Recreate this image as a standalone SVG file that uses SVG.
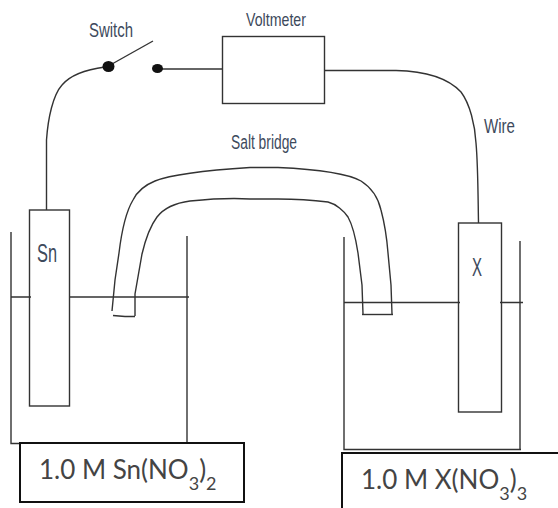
<svg xmlns="http://www.w3.org/2000/svg" width="558" height="508" viewBox="0 0 558 508">
<style>
.l{fill:none;stroke:#333;stroke-width:1.4}
.b{fill:none;stroke:#111;stroke-width:2}
.t{font-family:"Liberation Sans",Arial,sans-serif;fill:#3d4a5c}
.m{font-family:Lato,"Liberation Sans",sans-serif;font-size:26px;fill:#444}
.s{font-size:18px}
</style>
<rect width="558" height="508" fill="#fff"/>
<g id="connectors">
<path class="l" d="M46.500 210V140C48 118 53 95 62 85C72 73 90 69 105 67"/>
<path class="l" d="M112 64L153 41"/>
<path class="l" d="M160 69H222"/>
<path class="l" d="M324 70.500H396C420 71 445 75 461 92C470 104 475 125 476 143C478 165 478 195 478.500 223"/>
</g>
<g id="switch-contact-left"><ellipse cx="108.500" cy="66.500" rx="6" ry="5.500" fill="#111"/></g>
<g id="switch-contact-right"><ellipse cx="157.500" cy="68.500" rx="5.500" ry="4.500" fill="#111"/></g>
<g id="switch-label"><text class="t" x="89" y="37" font-size="20" textLength="44" lengthAdjust="spacingAndGlyphs">Switch</text></g>
<g id="voltmeter"><rect class="l" x="222.500" y="36.500" width="102" height="67"/>
<text class="t" x="246" y="26" font-size="19" textLength="60" lengthAdjust="spacingAndGlyphs">Voltmeter</text></g>
<g id="wire-label"><text class="t" x="484" y="133" font-size="20" textLength="31" lengthAdjust="spacingAndGlyphs">Wire</text></g>
<g id="salt-bridge">
<text class="t" x="231" y="149" font-size="20" textLength="66" lengthAdjust="spacingAndGlyphs">Salt bridge</text>
<path class="l" d="M112 311L115 280L119 253C122 228 127 210 133 200C138 190 145 185 155 181C170 175 210 170 250 167.500H278C310 169 345 172 361 181C372 188 378 197 381 210C385 225 387 240 388 253L391 285L392 314"/>
<path class="l" d="M135 316V294L142 254C146 237 151 225 157 217C164 208 175 203 190 201C210 199 235 198 250 199H278C300 199 320 201 328 202C336 204 344 211 348 217C353 226 356 240 358 253L362 285L363 314"/>
<path class="l" d="M113 315.500L125 316.500H135"/>
<path class="l" d="M362 314.500H393"/>
</g>
<g id="left-beaker">
<path class="l" d="M11 232V443.500H20"/>
<path class="l" d="M187 236V443"/>
<path class="l" d="M11 297H31M70 297H189"/>
</g>
<g id="sn-electrode"><rect class="l" x="29.500" y="210" width="40" height="196"/>
<text class="t" x="37" y="262" font-size="26" textLength="20" lengthAdjust="spacingAndGlyphs">Sn</text></g>
<g id="right-beaker">
<path class="l" d="M344 237V449.500H521"/>
<path class="l" d="M520 241V449"/>
<path class="l" d="M344 302.500H460M500 302.500H523"/>
</g>
<g id="x-electrode"><rect class="l" x="458.500" y="223" width="43" height="189"/>
<text class="t" x="472" y="276" font-size="25" textLength="10" lengthAdjust="spacingAndGlyphs">X</text></g>
<g id="left-label"><rect class="b" x="20" y="443" width="224" height="59"/>
<text class="m" x="39" y="479">1.0 M Sn(NO<tspan class="s" dy="11">3</tspan><tspan dy="-11">)</tspan><tspan class="s" dy="11">2</tspan></text></g>
<g id="right-label"><rect class="b" x="342" y="453" width="220" height="60"/>
<text class="m" x="361" y="489">1.0 M X(NO<tspan class="s" dy="11">3</tspan><tspan dy="-11">)</tspan><tspan class="s" dy="11">3</tspan></text></g>
</svg>
